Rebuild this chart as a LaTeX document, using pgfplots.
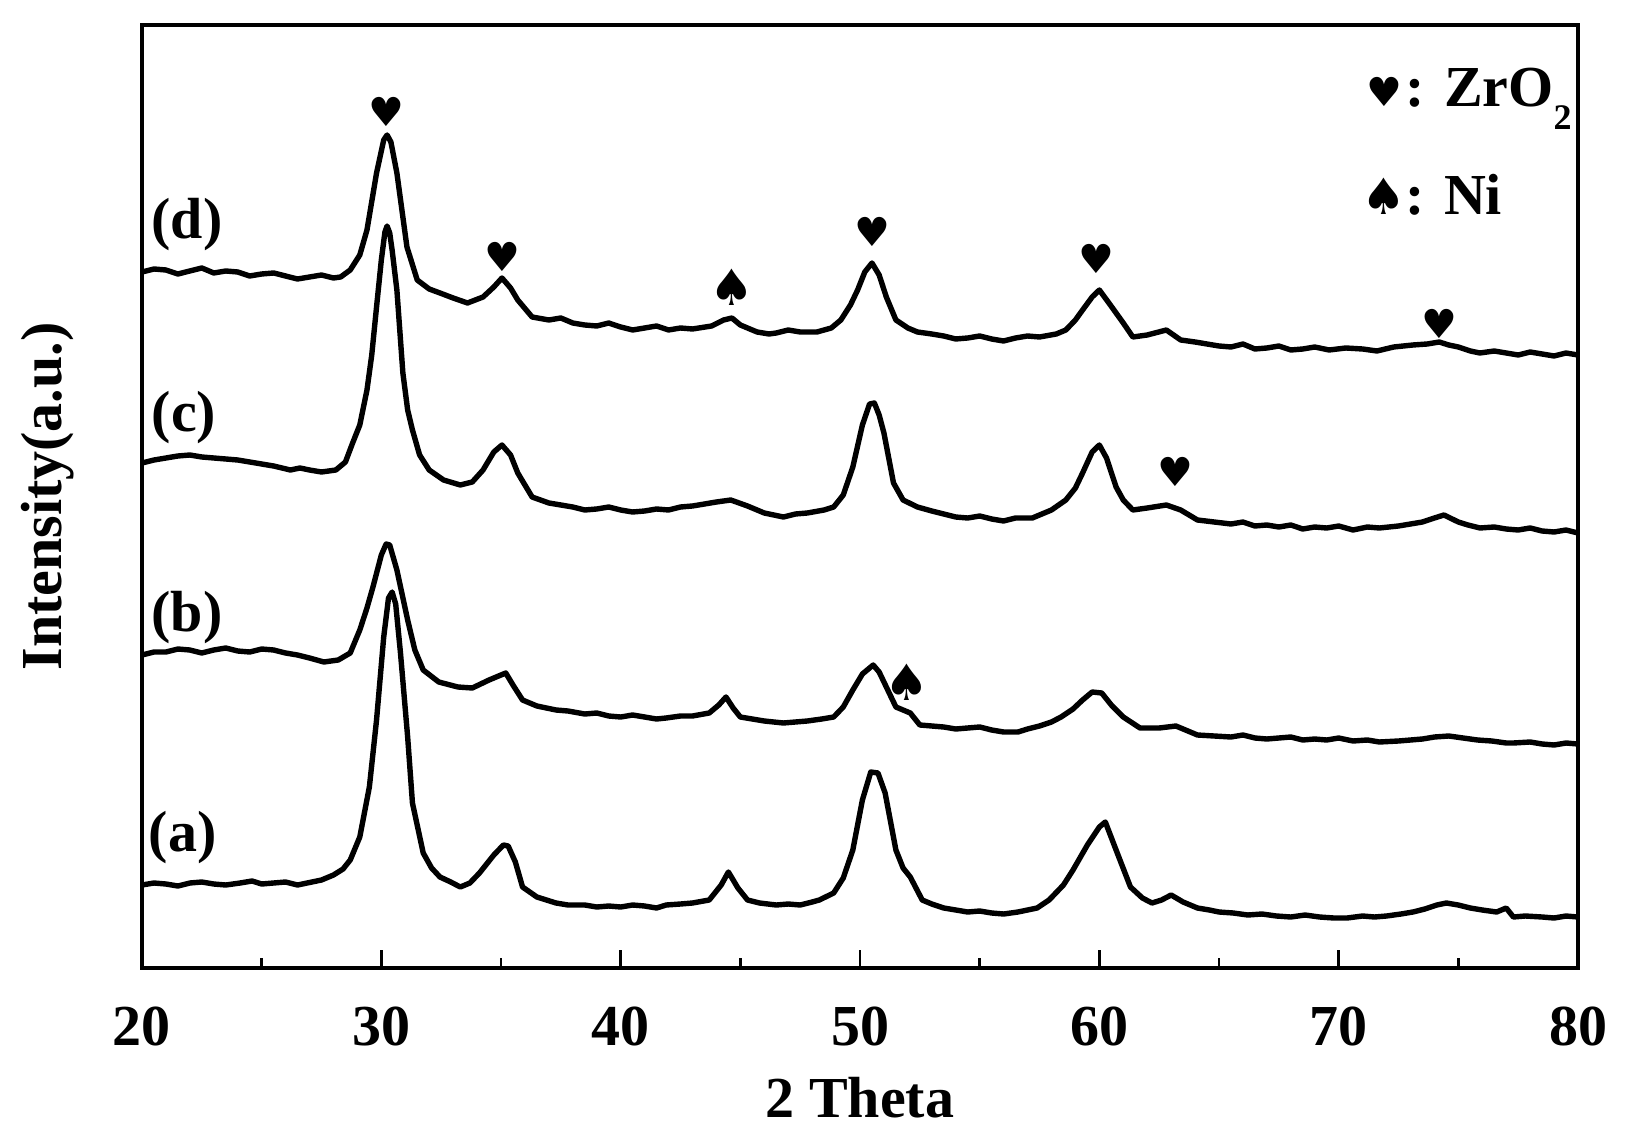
\documentclass[border=0pt]{standalone}
\usepackage{fontspec}
\setmainfont{Liberation Serif}
\newfontfamily\suitfont{DejaVu Sans}
\usepackage{pgfplots}
\pgfplotsset{compat=1.18}

\newcommand\bigfont{\fontsize{29}{34}\selectfont\bfseries}

\begin{document}
\begin{tikzpicture}
\begin{axis}[
    scale only axis,
    width=718pt, height=471.5pt,
    xmin=20, xmax=80, ymin=0, ymax=943,
    xtick={20,30,...,80}, minor x tick num=1,
    xtick pos=bottom, ytick=\empty,
    tick align=inside,
    major tick length=9pt, minor tick length=5pt,
    every tick/.style={black, line width=1.2pt},
    axis line style={line width=2pt},
    /pgf/number format/assume math mode=true,
    ticklabel style={font=\bigfont},
    xticklabel shift=16pt,
    xlabel={2 Theta}, ylabel={Intensity(a.u.)},
    label style={font=\bigfont},
    xlabel style={at={(axis description cs:0.5,-0.137)}, anchor=center},
    ylabel style={at={(axis description cs:-0.066,0.5)}, anchor=center, rotate=0},
    every axis plot/.append style={line join=round},
    clip=false,
]
% (d)
\addplot[black, line width=2.7pt] coordinates {
(20,696)(20.5,699)(21,698)(21.5,694)(22,697)(22.5,700)(23,695)(23.5,697)(24,696)(24.5,692)(25,694)(25.5,695)(26,692)(26.5,689)(27,691)(27.5,693)(28,690)(28.3,691)
(28.7,698)(29.1,713)(29.4,738)(29.8,795)(30.1,828)(30.24,833)(30.4,826)(30.65,795)(31.07,721)(31.5,688)(32,679)(32.45,675)(33,670)(33.6,665)(34.25,671)(34.7,681)(35.04,690)(35.4,680)(35.7,668)(36.3,651)
(37,648)(37.5,650)(38,645)(38.5,643)(39,642)(39.5,645)(40,641)(40.5,638)(41,640)(41.5,642)(42,638)(42.5,640)(43,639)(43.8,642)(44.3,648)(44.65,650)(45,643)(45.7,636)
(46.2,634)(46.5,635)(47,638)(47.5,636)(48.2,636)(48.8,640)(49.2,648)(49.6,663)(49.9,678)(50.2,696)(50.5,705)(50.8,693)(51.1,671)(51.5,648)(52,640)(52.4,636)(53,634)(53.5,632)
(54,629)(54.5,630)(55,632)(55.5,629)(56,627)(56.5,630)(57,632)(57.5,631)(58.2,634)(58.6,638)(59,648)(59.3,658)(59.7,671)(60,678)(60.4,665)(61,645)(61.4,631)(62,633)(62.8,638)
(63.4,628)(64,626)(64.5,624)(65,622)(65.5,621)(66,624)(66.5,619)(67,620)(67.5,622)(68,618)(68.5,619)(69,621)(69.6,618)(70.3,620)(71,619)(71.6,617)(72.3,621)(73.1,623)(73.7,624)
(74.2,626)(74.6,623)(75,621)(75.5,617)(75.9,615)(76.5,617)(77,615)(77.5,613)(78,616)(78.5,614)(79,612)(79.5,615)(80,613)};
% (c)
\addplot[black, line width=2.7pt] coordinates {
(20,505)(20.5,508)(21,510)(21.5,512)(22,513)(22.5,511)(23,510)(23.5,509)(24,508)(24.5,506)(25,504)(25.5,502)(26.2,498)(26.6,500)(27,498)(27.5,496)(28.1,498)(28.5,506)
(28.8,525)(29.1,543)(29.4,578)(29.6,613)(29.8,661)(30,708)(30.15,736)(30.24,742)(30.35,735)(30.45,718)(30.65,678)(30.9,595)(31.1,558)(31.3,538)(31.6,513)(32,498)(32.6,488)(33.3,483)(33.8,486)
(34.25,498)(34.7,516)(35.04,523)(35.4,513)(35.7,495)(36.3,471)(37,465)(37.5,463)(38,461)(38.5,458)(39,459)(39.5,461)(40,458)(40.5,456)(41,457)(41.5,459)(42,458)(42.5,461)
(43,462)(43.5,464)(44,466)(44.6,468)(45.3,462)(46,455)(46.4,453)(46.8,451)(47.3,454)(47.8,455)(48.5,458)(48.9,461)(49.3,473)(49.7,501)(50.1,543)(50.4,564)(50.6,565)(50.8,553)(51,535)
(51.4,485)(51.8,468)(52.4,461)(53,457)(53.5,454)(54,451)(54.5,450)(55,452)(55.5,449)(56,447)(56.5,450)(57.2,450)(58,458)(58.6,468)(59,480)(59.3,495)(59.7,516)(60,523)
(60.3,510)(60.7,481)(61,468)(61.4,458)(62,460)(62.8,463)(63.4,458)(64.1,448)(64.8,446)(65.5,444)(66,446)(66.5,442)(67,443)(67.5,441)(68,443)(68.5,439)(69,441)(69.5,440)
(70,442)(70.6,438)(71.2,441)(71.7,440)(72.5,442)(73,444)(73.5,446)(74,450)(74.4,453)(75,446)(75.4,443)(75.9,440)(76.5,441)(77,439)(77.5,438)(78,440)(78.5,437)(79,436)(79.5,438)(80,435)};
% (b)
\addplot[black, line width=2.7pt] coordinates {
(20,313)(20.5,316)(21,316)(21.5,319)(22,318)(22.5,315)(23,318)(23.5,320)(24,317)(24.5,316)(25,319)(25.5,318)(26,315)(26.5,313)(27,310)(27.6,306)(28.2,308)(28.7,315)
(29.1,338)(29.4,360)(29.65,381)(30,413)(30.2,424)(30.35,423)(30.65,398)(31.1,348)(31.4,318)(31.75,298)(32.4,286)(33.2,281)(33.8,280)(34.5,288)(35.2,295)(35.5,283)(35.9,268)(36.5,262)
(37.3,258)(37.8,257)(38.5,254)(39,255)(39.5,252)(40,251)(40.5,253)(41,251)(41.5,249)(41.9,250)(42.5,252)(43,252)(43.7,255)(44.1,263)(44.4,271)(44.7,260)(45,251)(45.5,249)
(46,247)(46.4,246)(46.8,245)(47.3,246)(47.8,247)(48.4,249)(48.9,251)(49.3,261)(49.7,278)(50.1,294)(50.55,303)(50.8,296)(51.1,281)(51.5,261)(52.1,255)(52.5,243)(53,242)
(53.5,241)(54,239)(54.5,240)(55,241)(55.5,238)(56,236)(56.6,236)(57,239)(57.5,242)(58,246)(58.4,251)(58.9,259)(59.3,268)(59.7,276)(60.1,275)(60.5,263)(61,251)(61.7,240)
(62.5,240)(63.2,242)(64.1,233)(64.8,232)(65.5,231)(66,233)(66.5,230)(67,229)(67.5,230)(68,231)(68.5,228)(69,229)(69.5,228)(70,230)(70.6,227)(71.2,228)(71.7,226)(72.5,227)
(73,228)(73.5,229)(74,231)(74.6,232)(75.2,230)(75.8,228)(76.4,227)(77,225)(77.3,225)(78,226)(78.5,224)(79,223)(79.5,225)(80,224)};
% (a)
\addplot[black, line width=2.7pt] coordinates {
(20,83)(20.5,85)(21,84)(21.5,82)(22,85)(22.5,86)(23,84)(23.5,83)(24.1,85)(24.6,87)(25,84)(25.5,85)(26,86)(26.5,83)(26.9,85)(27.5,88)(28,93)(28.4,99)(28.7,108)(29.1,131)
(29.5,181)(29.8,248)(30.1,331)(30.3,370)(30.45,376)(30.6,364)(30.8,315)(31.1,231)(31.3,165)(31.75,115)(32.1,100)(32.45,91)(32.9,86)(33.3,81)(33.7,85)(34.1,95)(34.7,113)
(35.1,123)(35.3,122)(35.6,106)(35.9,81)(36.5,71)(37.3,65)(37.8,63)(38.5,63)(39,61)(39.5,62)(40,61)(40.5,63)(41,62)(41.5,60)(41.9,63)(42.5,64)(43,65)(43.7,68)(44.2,83)(44.5,96)
(44.9,80)(45.3,68)(45.8,65)(46.5,63)(47,64)(47.5,63)(48,66)(48.3,68)(48.9,75)(49.3,90)(49.7,118)(50.1,168)(50.45,196)(50.75,195)(51.05,175)(51.5,118)(51.8,100)(52.1,91)(52.6,68)
(53,64)(53.5,60)(54,58)(54.5,56)(55,57)(55.5,55)(56,54)(56.6,56)(57,58)(57.4,60)(57.9,68)(58.5,83)(58.9,98)(59.5,123)(60,141)(60.25,146)(60.7,118)(61.3,81)(61.8,70)
(62.2,65)(62.6,68)(63,73)(63.5,66)(64.1,60)(64.6,58)(65,56)(65.6,55)(66.2,53)(66.8,54)(67.4,52)(68,51)(68.6,53)(69.2,51)(69.8,50)(70.35,50)(71,52)(71.5,51)(72,52)(72.6,54)
(73.1,56)(73.6,59)(74.1,63)(74.5,65)(75,63)(75.5,60)(76,58)(76.6,56)(77,60)(77.3,51)(77.8,52)(78.5,51)(79,50)(79.5,52)(80,51)};
% hearts (ZrO2)
\addplot[only marks, mark=none, nodes near coords={\suitfont\char"2665},
    nodes near coords style={anchor=center, inner sep=0pt, font=\fontsize{20}{20}\selectfont}]
coordinates {(30.2,856)(35.04,711)(50.5,736)(59.86,709)(74.2,644)(63.16,496)(71.9,876)};
% spades (Ni)
\addplot[only marks, mark=none, nodes near coords={\suitfont\char"2660},
    nodes near coords style={anchor=center, inner sep=0pt, font=\fontsize{25}{25}\selectfont}]
coordinates {(44.65,681)(51.97,286)(71.9,772)};
\node[anchor=base west, inner sep=0pt, font=\bigfont] at (axis cs:72.77,861)
    {: ZrO\raisebox{-0.38em}{\fontsize{18}{18}\selectfont 2}};
\node[anchor=base west, inner sep=0pt, font=\bigfont] at (axis cs:72.77,753) {: Ni};
% curve labels
\node[font=\bigfont, inner sep=0pt] at (axis cs:21.88,743) {(d)};
\node[font=\bigfont, inner sep=0pt] at (axis cs:21.75,550) {(c)};
\node[font=\bigfont, inner sep=0pt] at (axis cs:21.88,350) {(b)};
\node[font=\bigfont, inner sep=0pt] at (axis cs:21.7,130) {(a)};
\end{axis}
\useasboundingbox ([shift={(-71pt,-83.5pt)}]current axis.south west) rectangle ([shift={(26pt,12.5pt)}]current axis.north east);
\end{tikzpicture}
\end{document}
